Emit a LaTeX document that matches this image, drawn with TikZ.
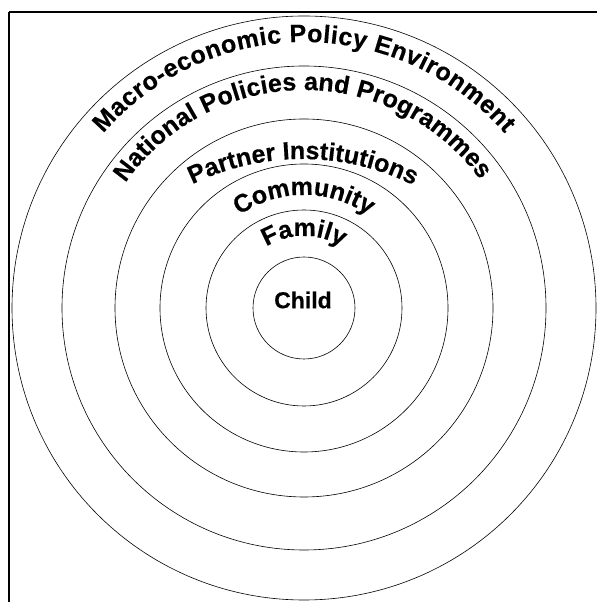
\documentclass[tikz,border=0pt]{standalone}
\usepackage{fontspec}
\setmainfont{Liberation Sans}[BoldFeatures={FakeBold=0.4}]
\usetikzlibrary{decorations.text}

\newcommand{\ringfont}{\fontsize{25}{30}\selectfont\bfseries}
\newcommand{\hubfont}{\fontsize{23}{28}\selectfont\bfseries}

\begin{document}
\begin{tikzpicture}[x=1pt,y=1pt]
\tikzstyle{ring} = [draw=black, line width=0.6pt]
\tikzstyle{frameline} = [draw=black, line width=2pt]
\tikzstyle{hub} = [font=\hubfont, inner sep=0pt]
\tikzstyle{ringtext} = [decorate, decoration={text along path, text align=center}]
\tikzstyle{ringtextfit} = [decorate, decoration={text along path, text align=fit to path}]

\useasboundingbox (0,0) rectangle (597,602);
\coordinate (c) at (304,294);
\coordinate (pc) at (302,193);
\coordinate (tl) at (9,590);
\coordinate (tr) at (597,590);
\coordinate (bl) at (9,0);

\draw[frameline] (tr) -- (tl);
\draw[frameline, line width=1.2pt] (tl) -- (bl);

% rings, child in the middle
\foreach \r in {51,98,144,189,242,292}
  \draw[ring] (c) circle[radius=\r];

\node[hub] (child) at (303,302) {Child};

% names of the rings, set along arcs
\path[ringtext, decoration={text={|\ringfont|Family}}]
  (c) ++(180:72) arc[start angle=180, end angle=0, radius=72];
\path[ringtext, decoration={text={|\ringfont|Community}}]
  (c) ++(180:113) arc[start angle=180, end angle=0, radius=113];
\path[ringtextfit, decoration={text={|\ringfont|Partner Institutions}}]
  (pc) ++(116:250) arc[start angle=116, end angle=64, radius=250];
\path[ringtextfit, decoration={text={|\ringfont|National Policies and Programmes}}]
  (c) ++(145:218) arc[start angle=145, end angle=36, radius=218];
\path[ringtextfit, decoration={text={|\ringfont|Macro-economic Policy Environment}}]
  (c) ++(139:266) arc[start angle=139, end angle=41, radius=266];
\end{tikzpicture}
\end{document}
